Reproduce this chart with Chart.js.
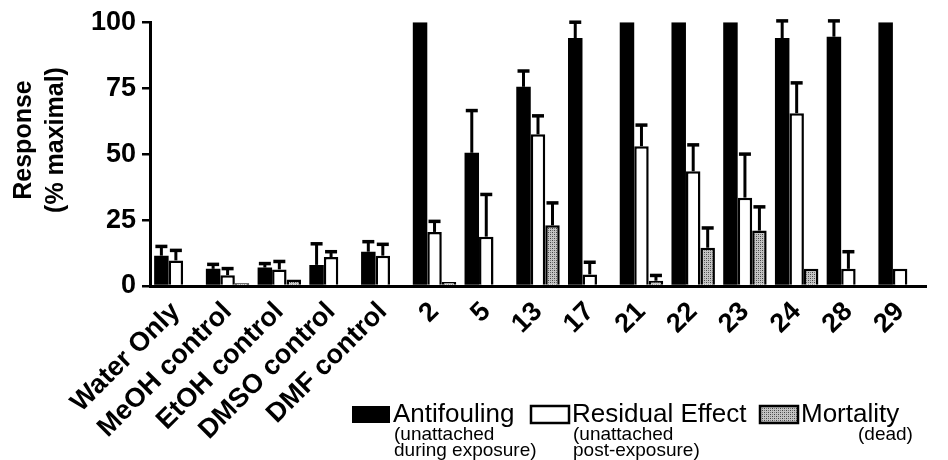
<!DOCTYPE html>
<html>
<head>
<meta charset="utf-8">
<script src="https://cdn.jsdelivr.net/npm/chart.js@4.4.1/dist/chart.umd.min.js"></script>
<style>
    html, body { margin: 0; padding: 0; background: #fff; }
    #wrap { width: 948px; height: 460px; }
</style>
</head>
<body>
<div id="wrap"><canvas id="chart" width="948" height="460"></canvas></div>
<script>
// Data
const categories = ['Water Only', 'MeOH control', 'EtOH control', 'DMSO control', 'DMF control',
    '2', '5', '13', '17', '21', '22', '23', '24', '28', '29'];
const antifouling    = [11.5, 6.5, 7, 8, 13, 100, 50.5, 75.5, 94, 100, 100, 100, 94, 94.5, 100];
const antifoulingErr = [3.5, 1.7, 1.5, 8, 3.8, 0, 16, 6, 6, 0, 0, 0, 6.5, 6, 0];
const residual       = [9.7, 4.1, 6.3, 11, 11.5, 20.5, 18.7, 57.5, 4.4, 53, 43.5, 33.5, 65.5, 6.5, 6.5];
const residualErr    = [3.8, 2.5, 3, 2, 4.3, 4, 16, 7, 4.6, 8, 10, 16.5, 11.5, 6.5, 0];
const mortality      = [0, 1, 2.5, 0, 0, 1.5, 0, 23, 0, 2, 14.5, 21, 6.5, 0, 0];
const mortalityErr   = [0, 0, 0, 0, 0, 0, 0, 8.5, 0, 2, 7.5, 9, 0, 0, 0];
const yTicks = [0, 25, 50, 75, 100];

const errors = [antifoulingErr, residualErr, mortalityErr];

// stippled gray fill for the mortality bars
function makeStipple() {
    const c = document.createElement('canvas');
    c.width = 4; c.height = 4;
    const g = c.getContext('2d');
    g.fillStyle = '#c4c4c4';
    g.fillRect(0, 0, 4, 4);
    g.fillStyle = '#444';
    g.fillRect(0, 0, 1, 1);
    g.fillRect(2, 2, 1, 1);
    g.fillStyle = '#777';
    g.fillRect(2, 0, 1, 1);
    g.fillRect(0, 2, 1, 1);
    return g.createPattern(c, 'repeat');
}
const stipple = makeStipple();

// Upward error bars with caps
const errorBars = {
    id: 'errorBars',
    afterDatasetsDraw(chart) {
        const ctx = chart.ctx;
        const y = chart.scales.y;
        ctx.save();
        ctx.strokeStyle = '#000';
        chart.data.datasets.forEach((ds, i) => {
            const meta = chart.getDatasetMeta(i);
            meta.data.forEach((bar, j) => {
                const err = errors[i][j];
                if (!err) return;
                const top = y.getPixelForValue(ds.data[j] + err);
                ctx.lineWidth = 3;
                ctx.beginPath();
                ctx.moveTo(bar.x, bar.y);
                ctx.lineTo(bar.x, top);
                ctx.stroke();
                ctx.lineWidth = 3.5;
                ctx.beginPath();
                ctx.moveTo(bar.x - 6, top);
                ctx.lineTo(bar.x + 6, top);
                ctx.stroke();
            });
        });
        ctx.restore();
    }
};

// Axis title and the legend at the bottom
const decorations = {
    id: 'decorations',
    afterDraw(chart) {
        const ctx = chart.ctx;
        ctx.save();
        ctx.fillStyle = '#000';
        ctx.textAlign = 'center';
        ctx.textBaseline = 'middle';
        ctx.font = 'bold 25px "Liberation Sans", Arial, sans-serif';
        ctx.translate(0, 140);
        ctx.rotate(-Math.PI / 2);
        ctx.fillText('Response', 0, 24);
        ctx.fillText('(% maximal)', 0, 56);
        ctx.restore();

        const items = [
            { x: 352, label: 'Antifouling', sub: ['(unattached', 'during exposure)'], fill: '#000', border: 0 },
            { x: 531, label: 'Residual Effect', sub: ['(unattached', 'post-exposure)'], fill: '#fff', border: 2.5 },
            { x: 760, label: 'Mortality', sub: ['', '(dead)'], fill: stipple, border: 2.5 }
        ];
        ctx.save();
        items.forEach(it => {
            ctx.fillStyle = it.fill;
            ctx.fillRect(it.x, 406, 38, 17);
            if (it.border) {
                ctx.lineWidth = it.border;
                ctx.strokeStyle = '#000';
                ctx.strokeRect(it.x, 406, 38, 17);
            }
            ctx.fillStyle = '#000';
            ctx.textAlign = 'left';
            ctx.textBaseline = 'middle';
            ctx.font = '26px "Liberation Sans", Arial, sans-serif';
            ctx.fillText(it.label, it.x + 41, 415);
            ctx.font = '19px "Liberation Sans", Arial, sans-serif';
            if (it.label === 'Mortality') {
                ctx.fillText(it.sub[1], it.x + 98, 435);
            } else {
                ctx.fillText(it.sub[0], it.x + 42, 435);
                ctx.fillText(it.sub[1], it.x + 42, 451);
            }
        });
        ctx.restore();
    }
};

const tickFont = { family: '"Liberation Sans", Arial, sans-serif', size: 27, weight: 'bold' };

new Chart(document.getElementById('chart'), {
    type: 'bar',
    data: {
        labels: categories,
        datasets: [
            { label: 'Antifouling', data: antifouling, backgroundColor: '#000', borderWidth: 0 },
            { label: 'Residual Effect', data: residual, backgroundColor: '#fff', borderColor: '#000', borderWidth: 2.5 },
            { label: 'Mortality', data: mortality, backgroundColor: stipple, borderColor: '#000', borderWidth: 2.5 }
        ]
    },
    options: {
        responsive: false,
        animation: false,
        devicePixelRatio: 1,
        layout: { padding: { top: 18, right: 22, left: 0, bottom: 0 } },
        datasets: { bar: { categoryPercentage: 0.84, barPercentage: 1.0, borderSkipped: 'bottom' } },
        plugins: {
            legend: { display: false },
            tooltip: { enabled: false }
        },
        scales: {
            x: {
                grid: { display: false },
                border: { display: true, color: '#000', width: 3 },
                ticks: {
                    color: '#000',
                    font: tickFont,
                    minRotation: 45,
                    maxRotation: 45,
                    autoSkip: false,
                    padding: 2
                },
                afterFit(s) {
                    s.height = 174;
                    s.paddingLeft = 0;
                    s.paddingRight = 0;
                }
            },
            y: {
                min: 0,
                max: 100,
                afterBuildTicks(s) { s.ticks = yTicks.map(v => ({ value: v })); },
                grid: { drawOnChartArea: false, color: '#000', lineWidth: 2.5, tickLength: 8 },
                border: { display: true, color: '#000', width: 3 },
                ticks: { color: '#000', font: tickFont, padding: 6 },
                afterFit(s) { s.width = 150; }
            }
        }
    },
    plugins: [errorBars, decorations]
});
</script>
</body>
</html>
